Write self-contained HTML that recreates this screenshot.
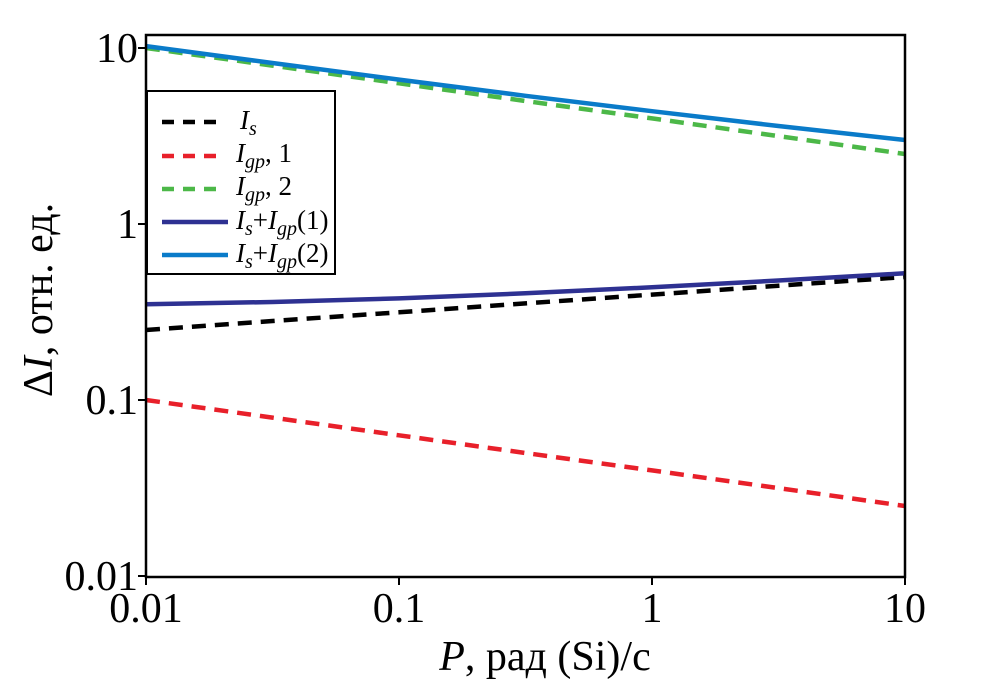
<!DOCTYPE html>
<html><head><meta charset="utf-8"><style>
body{margin:0;background:#fff}
svg{display:block;font-family:"Liberation Serif",serif}
</style></head><body>
<svg width="992" height="700" xmlns="http://www.w3.org/2000/svg">
<g id="plot"></g>
</svg>
<script>
const xVals=[0.01,0.0316,0.1,0.316,1,3.16,10];
const isVals=[0.25,0.281,0.315,0.354,0.397,0.446,0.5];
const igp1Vals=[0.1,0.0794,0.063,0.05,0.0398,0.0316,0.025];
const igp2Vals=[10,7.94,6.3,5.0,3.98,3.16,2.5];
const xTicks=[0.01,0.1,1,10];
const xTickLabels=["0.01","0.1","1","10"];
const yTicks=[0.01,0.1,1,10];
const yTickLabels=["0.01","0.1","1","10"];
const NS="http://www.w3.org/2000/svg";
const L=146,R=905,T=35,B=577;
const X=v=>L+(Math.log10(v)+2)/3*(R-L);
const Y=v=>576-(Math.log10(v)+2)*176;
const g=document.getElementById('plot');
function mk(t,a,p){const e=document.createElementNS(NS,t);for(const k in a)e.setAttribute(k,a[k]);(p||g).appendChild(e);return e;}
const sum1=isVals.map((v,i)=>v+igp1Vals[i]);
const sum2=isVals.map((v,i)=>v+igp2Vals[i]);
function line(vals,color,dash,name){
 const d=vals.map((v,i)=>(i?'L':'M')+X(xVals[i]).toFixed(1)+','+Y(v).toFixed(1)).join('');
 const p=mk('path',{d:d,fill:'none',stroke:color,'stroke-width':4.5});
 if(dash)p.setAttribute('stroke-dasharray','14,9');
 
 
}
line(igp1Vals,'#e8202a',true,'series-igp1');
line(isVals,'#000',true,'series-is');
line(sum1,'#2e3192',false,'series-sum1');
line(igp2Vals,'#4cb848',true,'series-igp2');
line(sum2,'#0a7bc9',false,'series-sum2');
const fr=mk('rect',{x:L,y:T,width:R-L,height:B-T,fill:'none',stroke:'#000','stroke-width':2.5});

xTicks.forEach((v,i)=>{const x=X(v);
 const t=mk('line',{x1:x,x2:x,y1:B,y2:B+8,stroke:'#000','stroke-width':2});
 
 const tx=mk('text',{x:x,y:B+45,'font-size':42,'text-anchor':'middle'});tx.textContent=xTickLabels[i];
 });
yTicks.forEach((v,i)=>{const y=Y(v);
 const t=mk('line',{x1:L-8,x2:L,y1:y,y2:y,stroke:'#000','stroke-width':2});
 
 const tx=mk('text',{x:L-8,y:y+14,'font-size':42,'text-anchor':'end'});tx.textContent=yTickLabels[i];
 });
</script>
<svg width="992" height="700" style="position:absolute;left:0;top:0" xmlns="http://www.w3.org/2000/svg">
<text x="545" y="670" font-size="42" text-anchor="middle"><tspan font-style="italic">P</tspan>, рад (Si)/с</text>
<text transform="translate(52,300) rotate(-90)" font-size="42" text-anchor="middle">Δ<tspan font-style="italic">I</tspan>, отн. ед.</text>
<g>
<rect x="147" y="91" width="188" height="183" fill="#fff" stroke="#000" stroke-width="2"/>
<line x1="162" y1="122" x2="220" y2="122" stroke="#000" stroke-width="4.5" stroke-dasharray="12,9"/>
<line x1="162" y1="156" x2="220" y2="156" stroke="#e8202a" stroke-width="4.5" stroke-dasharray="12,9"/>
<line x1="162" y1="189" x2="220" y2="189" stroke="#4cb848" stroke-width="4.5" stroke-dasharray="12,9"/>
<line x1="162" y1="222" x2="228" y2="222" stroke="#2e3192" stroke-width="4.5"/>
<line x1="162" y1="255" x2="228" y2="255" stroke="#0a7bc9" stroke-width="4.5"/>
<g font-size="27">
<text x="240" y="129" font-style="italic">I<tspan font-size="20" dy="6">s</tspan></text>
<text x="236" y="162"><tspan font-style="italic">I</tspan><tspan font-style="italic" font-size="20" dy="6">gp</tspan><tspan dy="-6">, 1</tspan></text>
<text x="236" y="195"><tspan font-style="italic">I</tspan><tspan font-style="italic" font-size="20" dy="6">gp</tspan><tspan dy="-6">, 2</tspan></text>
<text x="236" y="229"><tspan font-style="italic">I</tspan><tspan font-style="italic" font-size="20" dy="6">s</tspan><tspan dy="-6">+</tspan><tspan font-style="italic">I</tspan><tspan font-style="italic" font-size="20" dy="6">gp</tspan><tspan dy="-6">(1)</tspan></text>
<text x="236" y="262"><tspan font-style="italic">I</tspan><tspan font-style="italic" font-size="20" dy="6">s</tspan><tspan dy="-6">+</tspan><tspan font-style="italic">I</tspan><tspan font-style="italic" font-size="20" dy="6">gp</tspan><tspan dy="-6">(2)</tspan></text>
</g></g>
</svg>
</body></html>
